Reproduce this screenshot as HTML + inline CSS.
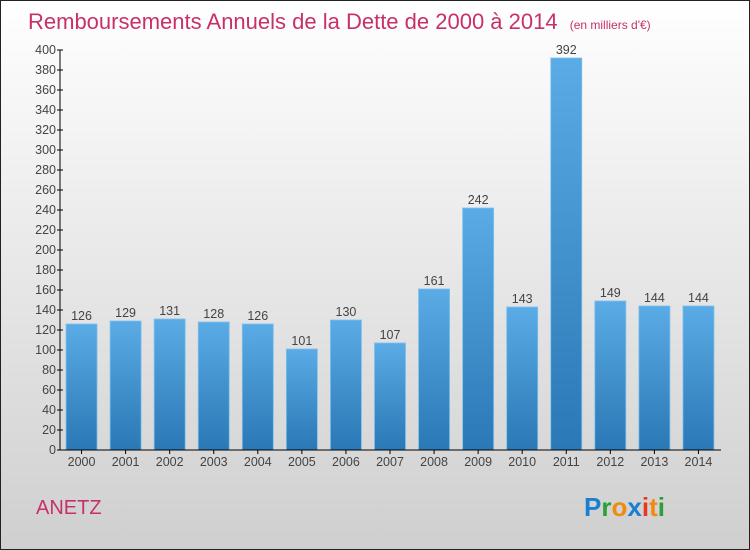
<!DOCTYPE html>
<html><head><meta charset="utf-8"><style>
body{margin:0;}
#wrap{width:750px;height:550px;position:relative;overflow:hidden;font-family:"Liberation Sans",sans-serif;}
</style></head><body>
<div id="wrap">
<svg id="chart" width="750" height="550" xmlns="http://www.w3.org/2000/svg" font-family="Liberation Sans, sans-serif">
<defs>
<linearGradient id="bg" x1="0" y1="0" x2="0" y2="1"><stop offset="0" stop-color="#ffffff"/><stop offset="1" stop-color="#cfcfcf"/></linearGradient>
<linearGradient id="bar" x1="0" y1="0" x2="0" y2="1"><stop offset="0" stop-color="#5aabe6"/><stop offset="1" stop-color="#2a78b5"/></linearGradient>
</defs>
<rect x="0.5" y="0.5" width="749" height="549" fill="url(#bg)" stroke="#222"/>
<text x="28" y="29" font-size="22" fill="#c8306a">Remboursements Annuels de la Dette de 2000 à 2014 <tspan font-size="12" dx="6">(en milliers d'€)</tspan></text>
<g id="yaxis"></g>
<g id="bars"></g>
<g id="xaxis"></g>
<text x="36" y="514" font-size="20" fill="#c8306a">ANETZ</text>
<g font-size="26" font-weight="bold">
<text x="584" y="516"><tspan fill="#1a7fd0">P</tspan><tspan fill="#2aa03a">r</tspan><tspan fill="#f08a10">o</tspan><tspan fill="#1a7fd0">x</tspan><tspan fill="#e83a1a">i</tspan><tspan fill="#f08a10">t</tspan><tspan fill="#2aa03a">i</tspan></text>
</g>
</svg>
</div>
<script>
const categories=["2000","2001","2002","2003","2004","2005","2006","2007","2008","2009","2010","2011","2012","2013","2014"];
const values=[126,129,131,128,126,101,130,107,161,242,143,392,149,144,144];
const yTicks=[0,20,40,60,80,100,120,140,160,180,200,220,240,260,280,300,320,340,360,380,400];
const NS="http://www.w3.org/2000/svg";
const x0=60,x1=721,yTop=50,yBot=450,yMax=400;
const y=v=>yBot-(v/yMax)*(yBot-yTop);
const step=(x1-x0)/categories.length;
const xc=i=>x0+step*(i+0.5)-0.5;
function mk(t,a,p){const e=document.createElementNS(NS,t);for(const k in a)e.setAttribute(k,a[k]);p.appendChild(e);return e;}
const ya=document.getElementById('yaxis'),xa=document.getElementById('xaxis'),bg=document.getElementById('bars');
mk('line',{x1:x0,y1:yTop,x2:x0,y2:yBot,stroke:'#000'},ya);
yTicks.forEach(v=>{
 const l=mk('line',{x1:x0-3,y1:y(v),x2:x0+3,y2:y(v),stroke:'#000'},ya);
 
 
 const t=mk('text',{x:x0-4,y:y(v)+4,'text-anchor':'end','font-size':12.5,fill:'#444'},ya);
 t.textContent=v;
 
 
});
mk('line',{x1:x0,y1:yBot,x2:x1,y2:yBot,stroke:'#000'},xa);
categories.forEach((c,i)=>{
 const cx=xc(i),w=31;
 const r=mk('rect',{x:cx-w/2,y:y(values[i]),width:w,height:yBot-y(values[i]),fill:'url(#bar)',stroke:'#7cc0ee','stroke-width':0.8},bg);
 
 
 const vt=mk('text',{x:cx,y:y(values[i])-4,'text-anchor':'middle','font-size':12.5,fill:'#444'},bg);
 vt.textContent=values[i];
 
 
 mk('line',{x1:cx,y1:yBot,x2:cx,y2:yBot+4,stroke:'#000'},xa);
 const t=mk('text',{x:cx,y:yBot+16,'text-anchor':'middle','font-size':12.5,fill:'#444'},xa);
 t.textContent=c;
 
 
});
</script>
</body></html>
